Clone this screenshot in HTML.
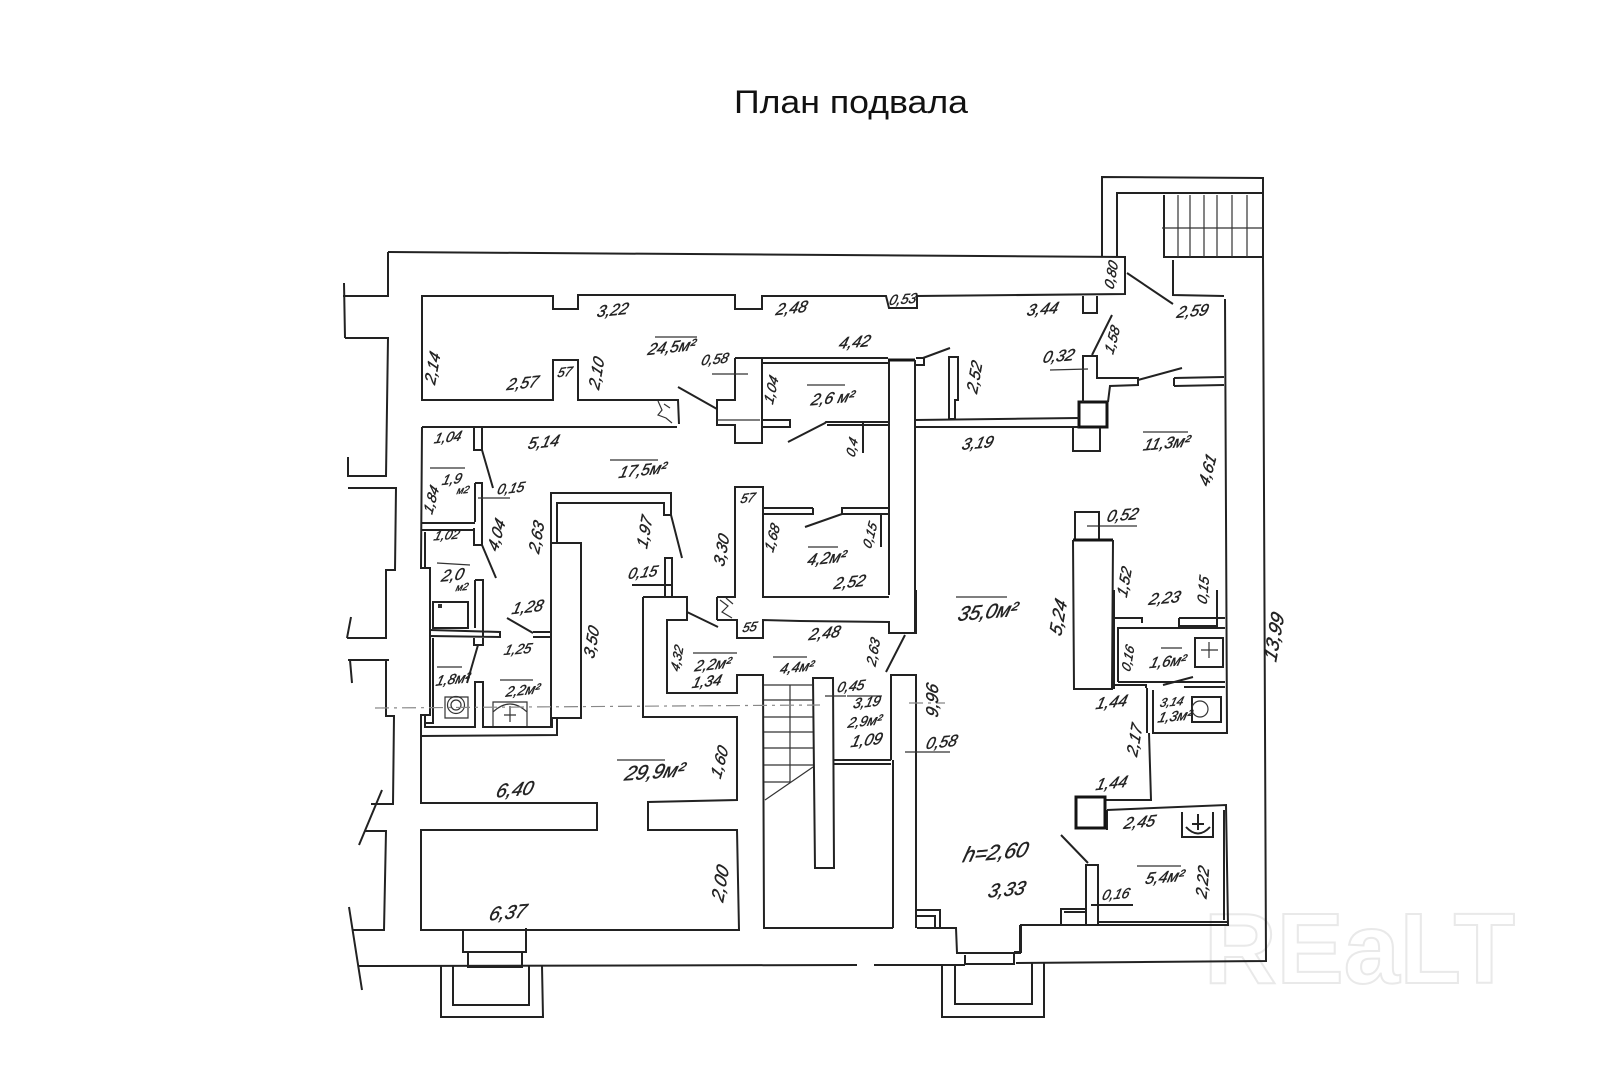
<!DOCTYPE html>
<html><head><meta charset="utf-8"><style>
html,body{margin:0;padding:0;background:#fff}
svg{display:block}
.w{fill:none;stroke:#222;stroke-width:2;stroke-linejoin:miter}
.t{fill:none;stroke:#333;stroke-width:1.2}
.k{fill:none;stroke:#141414;stroke-width:3}
.d{filter:blur(.35px)}
.l text{font-family:"Liberation Sans",sans-serif;font-style:italic;font-size:16px;fill:#222;stroke:#222;stroke-width:.4;text-anchor:middle;dominant-baseline:central}
</style></head><body>
<svg width="1600" height="1067" viewBox="0 0 1600 1067" xmlns="http://www.w3.org/2000/svg">
<rect width="1600" height="1067" fill="#fff"/>
<text x="734" y="113" font-family="Liberation Sans,sans-serif" font-size="32" fill="#111" textLength="234" lengthAdjust="spacingAndGlyphs">План подвала</text>
<text x="1204" y="983" font-family="Liberation Sans,sans-serif" font-size="100" font-weight="bold" fill="#fff" stroke="#e9e9e9" stroke-width="2" textLength="311" lengthAdjust="spacingAndGlyphs">REaLT</text>

<g class="d">
<!-- outer walls -->
<path class="w" d="M388 252L1125 257V294L917 296V308H889L886 296H762V309H735V295H578V309H553V296H422V400H553V360H578V400H678L679 424M1083 296V313H1097V296"/>
<path class="w" d="M388 252V296H343M344 283L345 338M345 338H388L386 476H347M348 457V476M348 488H396L395 570H386V638H347M351 617L347 638M348 660H389M350 660L352 683M386 661V716H394L393 804H371M382 790L359 845M365 831H386L384 930H353M349 907L362 990"/>
<path class="w" d="M358 966L857 965M874 965H965M1016 963L1266 961L1263 258V178L1102 177V257M1117 256V193H1263M1164 195V257H1263M1173 260V295L1224 296M1225 299L1227 733H1153V690M1147 688V733"/>
<path class="t" d="M1178 195V257M1190 195V257M1204 195V257M1217 195V257M1232 195V257M1247 195V257M1162 228H1263"/>
<!-- left rooms -->
<path class="w" d="M422 427H677M422 427L421 567V568H430V715H421V736L557 735V719M433 638V723H425M425 716V727H475V682H483V727H552V718H581V543H551V727M551 543V493H671V515H664V503H557V543"/>
<path class="w" d="M474 427V450H482V427M482 450L493 488M475 483H482V545H474V528M475 483V522M422 523H475M422 530H473M425 532V567M482 545L496 578M475 580H483V636M475 580V628M433 602H468V628H433ZM430 630L500 632V637L430 636M474 638V645H483V638M478 645L467 683M533 632H551M533 637H551M507 618L533 633"/>
<path class="t" d="M478 498H510M445 697H468V718H445Z"/>
<circle cx="456" cy="705" r="8.5" class="t"/><circle cx="456" cy="705" r="5" class="t"/>
<path class="t" d="M493 726V702H527V726M493 712Q510 696 527 712M510 706V722M504 715H516"/>
<rect x="438" y="604" width="4" height="4" fill="#333"/>
<path class="t" d="M658 401L662 410L658 415L666 418L672 423M664 404L670 408M720 600L728 606L722 612L732 618M726 598L733 604"/>
<!-- central -->
<path class="w" d="M671 515L682 558M665 597V558H672V597M632 585H672M643 597H687V620H667V693H737V675H763L764 928H893M643 597V717H737V800L648 802V830H737L739 930H421V830H597V803H421V736M687 612L718 627"/>
<path class="w" d="M463 930V952H526V928M468 952V967H522V952M441 966V1017H543L542 966M453 966V1005H529V966"/>
<path class="w" d="M717 597H735V487H763V597H889M717 620H737V638H763V620L800 621L889 622V633H916V590M717 597V620M889 360V595"/>
<path class="w" d="M735 358V400H717V425H735V443H762V358H888M735 358H762M762 363H888M678 387L717 409M762 420H790V427H762M788 442L825 423L826 422H888M827 425H888M863 422V453"/>
<path class="t" d="M712 374H748M717 420H760"/>
<path class="w" d="M763 508H813M763 514H813V508M805 527L842 514V508H888M842 514H888M881 513V547"/>
<path class="k" d="M888 360H915M1079 402H1107V427H1079Z"/>
<path class="w" d="M915 360V633M891 760V675H916V928M893 928V760M834 760H891M834 764H891M813 678H833L834 868H815ZM905 635L886 672"/>
<path class="t" d="M764 685H813M764 700H813M764 717H813M764 732H813M764 748H813M764 765H813M764 782H790M790 685V782M765 800L813 767M825 696H846M905 752H950"/>
<!-- right -->
<path class="w" d="M950 348L923 358M916 358H924V365H916M949 357H958V400H955V419H949ZM915 420L1079 418M915 427H1079M1073 428V451H1100V428M1083 402V356H1097V378H1138V385L1110 386L1108 402M1138 380L1182 368M1174 378L1224 377M1174 386L1224 385M1174 378V386M1092 355L1112 315M1127 273L1173 304"/>
<path class="t" d="M1050 370L1088 369M1087 526L1137 526"/>
<path class="w" d="M1075 540V512H1099V540"/>
<path class="k" d="M1073 540H1113"/>
<path class="w" d="M1073 540L1074 689H1112L1113 540M1114 618H1142V623M1179 618H1225M1179 618V626H1217V590M1118 682V628H1225M1114 685H1146V688M1118 682H1225M1184 687H1225M1163 685L1193 677M1114 590V689"/>
<path class="w" d="M1192 697H1221V722H1192ZM1195 638H1223V667H1195ZM1149 733L1151 800H1105M1107 810V830M1107 810L1226 805L1228 925H1021V952H1014M1224 810V920M1098 922H1228"/>
<circle cx="1200" cy="709" r="8" class="t"/>
<path class="t" d="M1209 642V658M1201 650H1218"/>
<path class="k" d="M1076 797H1105V828H1076Z"/>
<path class="w" d="M1182 812V837H1213V812M1186 827Q1198 840 1210 827M1198 814V830M1192 824H1204M1061 835L1088 863M1086 865H1098V925H1086ZM1061 925V909H1086M1064 912H1086M917 910H940V927M917 916H935V927M917 928H956L957 953H1021M965 955V964H1014V953M1020 925V952M942 965V1017H1044V963M955 965V1004H1032V963M1091 905H1133"/>
<path class="t" stroke-dasharray="14 5 3 5" d="M375 708L820 705M909 703H945" style="stroke:#888"/>
</g>

<!-- overlines -->
<path class="t d" d="M655 337H697M610 460H658M430 468H465M808 547H838M437 563L470 565M437 667H462M500 680H533M693 653H737M773 657H807M617 760H665M956 597H1007M1137 866H1181M1161 648H1182M807 385H845M1143 432H1188M847 696H882"/>

<g class="l d">
<text transform="translate(613,310) rotate(-6) skewX(-20)">3,22</text>
<text transform="translate(792,308) rotate(-6) skewX(-20)">2,48</text>
<text transform="translate(433,368) rotate(-80) skewX(-15)">2,14</text>
<text transform="translate(523,383) rotate(-6) skewX(-20)">2,57</text>
<text transform="translate(565,372) rotate(-6) skewX(-20)" style="font-size:13px">57</text>
<text transform="translate(597,373) rotate(-80) skewX(-15)">2,10</text>
<text transform="translate(672,347) rotate(-6) skewX(-20)">24,5м²</text>
<text transform="translate(715,360) rotate(-6) skewX(-20)" style="font-size:14px">0,58</text>
<text transform="translate(772,390) rotate(-78) skewX(-15)" style="font-size:14px">1,04</text>
<text transform="translate(448,438) rotate(-6) skewX(-20)" style="font-size:14px">1,04</text>
<text transform="translate(544,442) rotate(-6) skewX(-20)">5,14</text>
<text transform="translate(643,470) rotate(-6) skewX(-20)">17,5м²</text>
<text transform="translate(452,480) rotate(-6) skewX(-20)" style="font-size:14px">1,9</text>
<text transform="translate(463,491) rotate(-6) skewX(-20)" style="font-size:10px">м2</text>
<text transform="translate(432,500) rotate(-75) skewX(-15)" style="font-size:14px">1,84</text>
<text transform="translate(511,489) rotate(-6) skewX(-20)" style="font-size:14px">0,15</text>
<text transform="translate(447,535) rotate(-4) skewX(-20)" style="font-size:13px">1,02</text>
<text transform="translate(497,535) rotate(-75) skewX(-15)">4,04</text>
<text transform="translate(537,537) rotate(-80) skewX(-15)">2,63</text>
<text transform="translate(645,532) rotate(-80) skewX(-15)">1,97</text>
<text transform="translate(722,550) rotate(-80) skewX(-15)">3,30</text>
<text transform="translate(773,538) rotate(-75) skewX(-15)" style="font-size:14px">1,68</text>
<text transform="translate(827,558) rotate(-6) skewX(-20)">4,2м²</text>
<text transform="translate(850,582) rotate(-6) skewX(-20)">2,52</text>
<text transform="translate(870,535) rotate(-75) skewX(-15)" style="font-size:13px">0,15</text>
<text transform="translate(748,498) rotate(-6) skewX(-20)" style="font-size:13px">57</text>
<text transform="translate(643,573) rotate(-6) skewX(-20)" style="font-size:15px">0,15</text>
<text transform="translate(453,575) rotate(-6) skewX(-20)">2,0</text>
<text transform="translate(462,588) rotate(-6) skewX(-20)" style="font-size:10px">м2</text>
<text transform="translate(528,607) rotate(-6) skewX(-20)">1,28</text>
<text transform="translate(592,642) rotate(-80) skewX(-15)">3,50</text>
<text transform="translate(518,650) rotate(-4) skewX(-20)" style="font-size:14px">1,25</text>
<text transform="translate(453,680) rotate(-6) skewX(-20)" style="font-size:14px">1,8м²</text>
<text transform="translate(523,691) rotate(-6) skewX(-20)" style="font-size:14px">2,2м²</text>
<text transform="translate(677,658) rotate(-80) skewX(-15)" style="font-size:13px">4,32</text>
<text transform="translate(713,665) rotate(-6) skewX(-20)" style="font-size:15px">2,2м²</text>
<text transform="translate(707,682) rotate(-6) skewX(-20)" style="font-size:15px">1,34</text>
<text transform="translate(797,668) rotate(-6) skewX(-20)" style="font-size:14px">4,4м²</text>
<text transform="translate(655,772) rotate(-4) skewX(-20)" style="font-size:20px">29,9м²</text>
<text transform="translate(720,762) rotate(-75) skewX(-15)">1,60</text>
<text transform="translate(515,790) rotate(-5) skewX(-20)" style="font-size:19px">6,40</text>
<text transform="translate(720,883) rotate(-80) skewX(-15)" style="font-size:18px">2,00</text>
<text transform="translate(508,913) rotate(-5) skewX(-20)" style="font-size:19px">6,37</text>
<text transform="translate(750,627) rotate(-6) skewX(-20)" style="font-size:13px">55</text>
<text transform="translate(825,633) rotate(-6) skewX(-20)">2,48</text>
<text transform="translate(874,652) rotate(-80) skewX(-15)" style="font-size:14px">2,63</text>
<text transform="translate(851,687) rotate(-6) skewX(-20)" style="font-size:14px">0,45</text>
<text transform="translate(867,703) rotate(-6) skewX(-20)" style="font-size:14px">3,19</text>
<text transform="translate(865,722) rotate(-6) skewX(-20)" style="font-size:14px">2,9м²</text>
<text transform="translate(867,740) rotate(-6) skewX(-20)">1,09</text>
<text transform="translate(932,700) rotate(-90) skewX(-15)" style="font-size:17px">9,96</text>
<text transform="translate(942,742) rotate(-6) skewX(-20)">0,58</text>
<text transform="translate(988,612) rotate(-5) skewX(-20)" style="font-size:20px">35,0м²</text>
<text transform="translate(1058,617) rotate(-80) skewX(-15)" style="font-size:18px">5,24</text>
<text transform="translate(1112,702) rotate(-6) skewX(-20)">1,44</text>
<text transform="translate(1135,740) rotate(-80) skewX(-15)">2,17</text>
<text transform="translate(1112,783) rotate(-6) skewX(-20)">1,44</text>
<text transform="translate(996,852) rotate(-5) skewX(-20)" style="font-size:21px">h=2,60</text>
<text transform="translate(1007,890) rotate(-5) skewX(-20)" style="font-size:19px">3,33</text>
<text transform="translate(1140,822) rotate(-5) skewX(-20)">2,45</text>
<text transform="translate(1165,877) rotate(-5) skewX(-20)">5,4м²</text>
<text transform="translate(1203,882) rotate(-85) skewX(-15)">2,22</text>
<text transform="translate(1116,895) rotate(-5) skewX(-20)" style="font-size:14px">0,16</text>
<text transform="translate(1128,658) rotate(-80) skewX(-15)" style="font-size:13px">0,16</text>
<text transform="translate(1168,662) rotate(-5) skewX(-20)" style="font-size:15px">1,6м²</text>
<text transform="translate(1165,598) rotate(-5) skewX(-20)">2,23</text>
<text transform="translate(1125,582) rotate(-80) skewX(-15)" style="font-size:15px">1,52</text>
<text transform="translate(1204,590) rotate(-85) skewX(-15)" style="font-size:14px">0,15</text>
<text transform="translate(1175,717) rotate(-5) skewX(-20)" style="font-size:14px">1,3м²</text>
<text transform="translate(1172,702) rotate(-5) skewX(-20)" style="font-size:12px">3,14</text>
<text transform="translate(1275,637) rotate(-80) skewX(-15)" style="font-size:19px">13,99</text>
<text transform="translate(1043,309) rotate(-5) skewX(-20)">3,44</text>
<text transform="translate(903,300) rotate(-5) skewX(-20)" style="font-size:14px">0,53</text>
<text transform="translate(1112,275) rotate(-80) skewX(-15)" style="font-size:14px">0,80</text>
<text transform="translate(1193,311) rotate(-5) skewX(-20)">2,59</text>
<text transform="translate(855,342) rotate(-5) skewX(-20)">4,42</text>
<text transform="translate(1059,356) rotate(-5) skewX(-20)">0,32</text>
<text transform="translate(1113,340) rotate(-75) skewX(-15)" style="font-size:14px">1,58</text>
<text transform="translate(975,377) rotate(-80) skewX(-15)">2,52</text>
<text transform="translate(833,398) rotate(-5) skewX(-20)">2,6 м²</text>
<text transform="translate(852,447) rotate(-80) skewX(-15)" style="font-size:13px">0,4</text>
<text transform="translate(978,443) rotate(-5) skewX(-20)">3,19</text>
<text transform="translate(1167,443) rotate(-5) skewX(-20)">11,3м²</text>
<text transform="translate(1208,470) rotate(-75) skewX(-15)">4,61</text>
<text transform="translate(1123,515) rotate(-5) skewX(-20)">0,52</text>
</g>
</svg>
</body></html>
